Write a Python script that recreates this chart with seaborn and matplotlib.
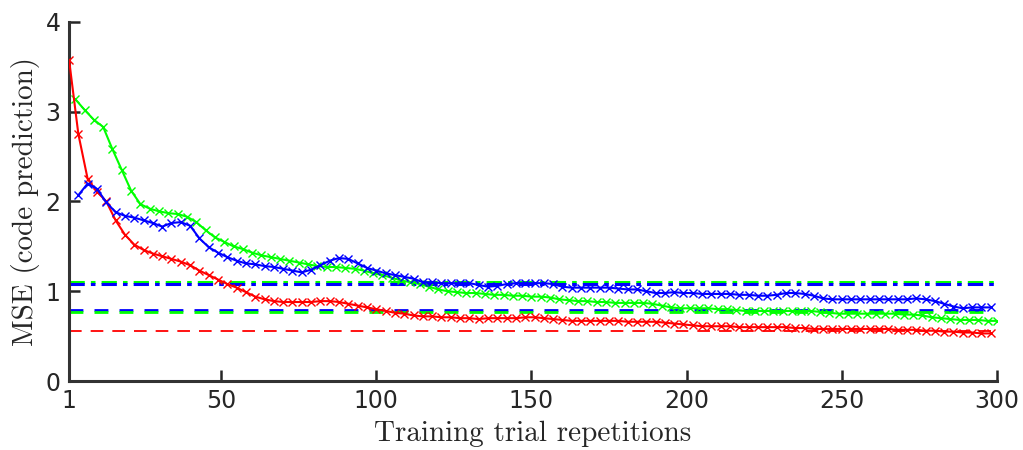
import numpy as np
import pandas as pd
import matplotlib
matplotlib.use("Agg")
import matplotlib.pyplot as plt
import seaborn as sns

# --- data ---
red_trials = np.arange(1, 301, 3)
green_trials = np.arange(3, 301, 3)
blue_trials = np.arange(4, 301, 3)

red_mse = [
    3.58, 2.75, 2.25, 2.11, 2.00, 1.79, 1.63, 1.52, 1.46, 1.42,
    1.39, 1.36, 1.33, 1.29, 1.23, 1.18, 1.13, 1.08, 1.04, 0.99,
    0.94, 0.91, 0.89, 0.88, 0.88, 0.88, 0.88, 0.89, 0.89, 0.88,
    0.86, 0.84, 0.82, 0.80, 0.78, 0.76, 0.75, 0.73, 0.72, 0.72,
    0.71, 0.71, 0.70, 0.70, 0.69, 0.70, 0.70, 0.70, 0.70, 0.71,
    0.71, 0.70, 0.69, 0.68, 0.67, 0.67, 0.67, 0.67, 0.67, 0.67,
    0.66, 0.66, 0.66, 0.66, 0.65, 0.64, 0.63, 0.62, 0.61, 0.61,
    0.61, 0.61, 0.60, 0.60, 0.60, 0.60, 0.60, 0.60, 0.59, 0.59,
    0.58, 0.58, 0.58, 0.58, 0.58, 0.58, 0.58, 0.58, 0.58, 0.57,
    0.57, 0.57, 0.56, 0.56, 0.55, 0.55, 0.54, 0.54, 0.53, 0.53,
]
green_mse = [
    3.14, 3.02, 2.91, 2.83, 2.58, 2.35, 2.12, 1.97, 1.92, 1.89,
    1.87, 1.86, 1.83, 1.77, 1.68, 1.60, 1.55, 1.50, 1.47, 1.43,
    1.40, 1.38, 1.36, 1.34, 1.32, 1.30, 1.28, 1.27, 1.27, 1.26,
    1.25, 1.23, 1.20, 1.18, 1.15, 1.12, 1.10, 1.08, 1.05, 1.02,
    1.00, 0.99, 0.98, 0.98, 0.97, 0.96, 0.96, 0.95, 0.95, 0.94,
    0.94, 0.93, 0.91, 0.90, 0.89, 0.89, 0.88, 0.88, 0.87, 0.87,
    0.87, 0.87, 0.86, 0.84, 0.82, 0.81, 0.81, 0.81, 0.81, 0.80,
    0.80, 0.79, 0.78, 0.78, 0.78, 0.78, 0.78, 0.78, 0.78, 0.78,
    0.77, 0.76, 0.75, 0.75, 0.75, 0.75, 0.75, 0.75, 0.75, 0.74,
    0.74, 0.73, 0.71, 0.70, 0.69, 0.68, 0.68, 0.68, 0.67, 0.67,
]
blue_mse = [
    2.07, 2.20, 2.14, 1.99, 1.88, 1.84, 1.82, 1.79, 1.76, 1.72,
    1.76, 1.77, 1.73, 1.59, 1.49, 1.43, 1.38, 1.34, 1.31, 1.30,
    1.28, 1.27, 1.25, 1.23, 1.21, 1.24, 1.29, 1.34, 1.37, 1.36,
    1.31, 1.26, 1.23, 1.20, 1.18, 1.16, 1.14, 1.10, 1.10, 1.09,
    1.09, 1.09, 1.09, 1.07, 1.05, 1.06, 1.08, 1.09, 1.09, 1.09,
    1.09, 1.08, 1.05, 1.04, 1.04, 1.04, 1.04, 1.04, 1.03, 1.02,
    1.02, 1.00, 0.98, 0.98, 0.99, 0.98, 0.98, 0.97, 0.97, 0.97,
    0.97, 0.96, 0.96, 0.95, 0.95, 0.96, 0.98, 0.98, 0.97, 0.95,
    0.92, 0.91, 0.91, 0.91, 0.91, 0.91, 0.91, 0.91, 0.91, 0.91,
    0.92, 0.91, 0.89, 0.86, 0.83, 0.81, 0.82, 0.82, 0.82,
]

# horizontal reference levels
dashdot_levels = {"#00ff00": 1.106, "#0000ff": 1.086}
dashed_levels = {"#0000ff": 0.791, "#00ff00": 0.773, "#ff0000": 0.553}

x_ticks = [1, 50, 100, 150, 200, 250, 300]
y_ticks = [0, 1, 2, 3, 4]

sns.set_style("ticks")
plt.rcParams["font.family"] = ["DejaVu Sans"]

fig = plt.figure(figsize=(10.23, 4.5), dpi=100)
ax = fig.add_axes([0.0675, 0.1533, 0.907, 0.798])

for c, lvl in dashdot_levels.items():
    ax.plot([1, 300], [lvl, lvl], color=c, lw=2.2, ls=(0, (5, 2, 1.5, 2)), zorder=1)
for c, lvl in dashed_levels.items():
    if c == "#ff0000":
        ax.plot([1, 298], [lvl, lvl], color=c, lw=1.3, ls=(0, (7, 5)), zorder=1)
    else:
        ax.plot([1, 298], [lvl, lvl], color=c, lw=2.0, ls=(0, (5, 4)), zorder=1)

series = [
    (green_trials, green_mse, "#00ff00"),
    (red_trials, red_mse, "#ff0000"),
    (blue_trials, blue_mse, "#0000ff"),
]
for xs, ys, c in series:
    df = pd.DataFrame({"trial": xs, "mse": ys})
    sns.lineplot(data=df, x="trial", y="mse", color=c, marker="x", markersize=6,
                 markeredgewidth=1.0, markeredgecolor=c, linewidth=1.5,
                 ax=ax, zorder=3)

ax.set_xlim(1, 300)
ax.set_ylim(0, 4)
ax.set_xticks(x_ticks)
ax.set_yticks(y_ticks)
ax.tick_params(direction="in", length=8, width=1.8, labelsize=17, colors="#262626", pad=6)
for s in ["left", "bottom"]:
    ax.spines[s].set_linewidth(2.2)
    ax.spines[s].set_color("#333333")
sns.despine(ax=ax)

ax.set_xlabel("Training trial repetitions", fontfamily="cmr10", fontsize=21, labelpad=5)
ax.set_ylabel("MSE (code prediction)", fontfamily="cmr10", fontsize=21, labelpad=4)

fig.savefig("out.png", dpi=100)
